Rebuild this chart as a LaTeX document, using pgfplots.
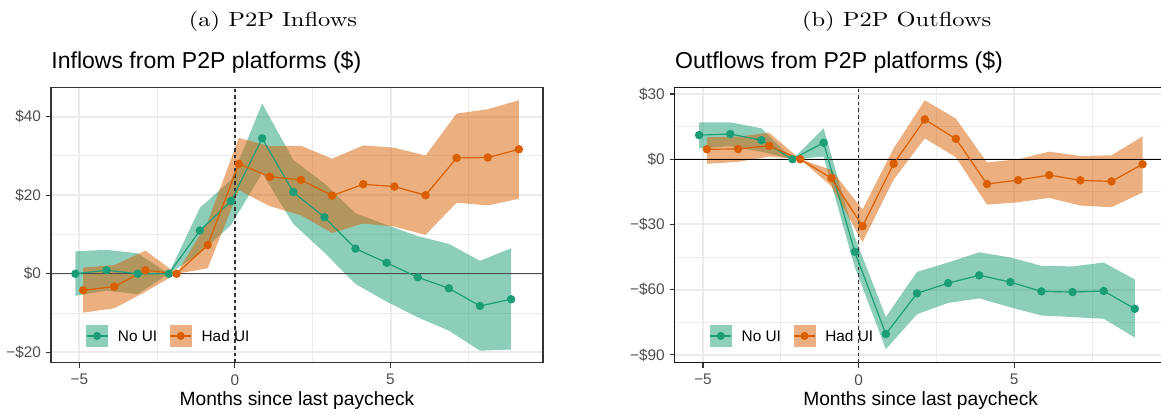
\documentclass[border=0pt]{standalone}
\usepackage{fontspec}
\newfontfamily\arial{Liberation Sans}
\usepackage{graphicx}
\usepackage{pgfplots}
\pgfplotsset{compat=1.18}
\usepackage{pgfplotstable}
\usepgfplotslibrary{fillbetween}
\definecolor{nouicol}{HTML}{1B9E77}
\definecolor{haduicol}{HTML}{D95F02}
\definecolor{gridc}{HTML}{EBEBEB}
\definecolor{g20}{HTML}{333333}
\definecolor{g30}{HTML}{4D4D4D}

% (a) Inflows, No UI (dodged -0.125)
\pgfplotstableread{
x y lo hi
-5.125 0.0 -5.6 5.7
-4.125 0.9 -4.3 6.1
-3.125 0.0 -5.2 5.2
-2.125 0.0 0.0 0.0
-1.125 11.0 5.2 16.8
-0.125 18.5 12.4 23.9
0.875 34.5 25.6 43.4
1.875 20.8 12.7 29.0
2.875 14.4 5.4 23.0
3.875 6.4 -2.6 15.4
4.875 2.8 -7.1 12.4
5.875 -0.9 -11.1 9.6
6.875 -3.7 -14.5 7.6
7.875 -8.2 -19.6 3.3
8.875 -6.5 -19.3 6.5
}\inNo
% (a) Inflows, Had UI (dodged +0.125)
\pgfplotstableread{
x y lo hi
-4.875 -4.2 -9.9 1.6
-3.875 -3.3 -8.8 2.2
-2.875 0.9 -4.6 5.9
-1.875 0.0 0.0 0.0
-0.875 7.3 1.4 13.2
0.125 28.0 21.3 34.6
1.125 24.7 17.2 32.5
2.125 23.9 14.9 32.6
3.125 19.9 10.4 29.3
4.125 22.8 12.8 32.7
5.125 22.2 12.0 32.1
6.125 20.0 9.9 30.1
7.125 29.5 18.1 40.8
8.125 29.6 17.4 41.9
9.125 31.7 19.1 44.2
}\inHad
% (b) Outflows, No UI
\pgfplotstableread{
x y lo hi
-5.125 11.1 5.0 16.9
-4.125 11.6 6.0 17.0
-3.125 8.8 3.5 14.2
-2.125 0.0 0.0 0.0
-1.125 7.6 1.2 14.2
-0.125 -42.6 -49.5 -35.7
0.875 -80.4 -87.4 -72.6
1.875 -61.7 -71.3 -51.8
2.875 -57.0 -66.1 -47.5
3.875 -53.4 -64.0 -42.8
4.875 -56.5 -68.1 -45.2
5.875 -60.8 -71.9 -49.0
6.875 -61.1 -72.6 -49.3
7.875 -60.6 -73.4 -47.5
8.875 -68.8 -82.0 -55.3
}\outNo
% (b) Outflows, Had UI
\pgfplotstableread{
x y lo hi
-4.875 4.6 -2.1 10.1
-3.875 4.7 -1.2 10.4
-2.875 6.2 1.2 12.2
-1.875 0.0 0.0 0.0
-0.875 -8.7 -12.5 -4.9
0.125 -30.8 -38.1 -23.1
1.125 -2.1 -9.4 5.0
2.125 18.3 9.6 27.1
3.125 9.4 0.9 18.7
4.125 -11.4 -20.9 -1.5
5.125 -9.6 -19.8 0.0
6.125 -7.3 -17.8 3.5
7.125 -9.7 -21.3 1.5
8.125 -10.2 -22.1 1.8
9.125 -2.3 -15.3 10.5
}\outHad

\pgfplotsset{
  p2p/.style={
    scale only axis, width=246pt, height=137.6pt,
    xmin=-5.91, xmax=9.9,
    xtick={-5,0,5}, xticklabels={−5,0,5},
    minor xtick={-2.5,2.5,7.5},
    grid=both,
    major grid style={draw=gridc, line width=1pt},
    minor grid style={draw=gridc, line width=0.5pt},
    tick align=outside,
    major tick length=2.4pt, minor tick length=0pt,
    xtick pos=left, ytick pos=left,
    tick style={draw=g20, line width=0.55pt},
    tick label style={font=\arial\fontsize{7.68}{9}\selectfont, text=g30},
    xticklabel style={anchor=north, inner sep=0pt, yshift=-3.25pt},
    yticklabel style={anchor=east, inner sep=0pt, xshift=-2.4pt},
    every axis title shift=0pt,
    title style={at={(0,1)}, anchor=base west, inner sep=0pt, yshift=9.4pt,
      font=\arial\fontsize{11.52}{13}\selectfont},
    xlabel={Months since last paycheck},
    xlabel style={at={(0.5,0)}, anchor=base, inner sep=0pt, yshift=-21.5pt,
      font=\arial\fontsize{9.6}{11}\selectfont},
    legend style={at={(0.0711,0.0581)}, anchor=south west, draw=none, fill=none,
      inner sep=0pt, outer sep=0pt, legend columns=2, column sep=0pt,
      font=\arial\fontsize{7.68}{9}\selectfont,
      nodes={inner sep=0pt, anchor=base west},
      /tikz/every odd column/.append style={column sep=4.9pt},
      /tikz/every even column/.append style={column sep=6.2pt}},
  },
  rib/.style={draw=none, fill=#1, fill opacity=0.5, forget plot},
  ser/.style={#1, line width=0.6pt, mark=*, mark size=1.8pt,
    mark options={fill=#1, draw=none}, forget plot},
}

\newcommand{\legkeys}{%
  \addlegendimage{legend image code/.code={
    \fill[nouicol!50!white] (0pt,-2.2pt) rectangle (10.5pt,8.2pt);
    \draw[nouicol, line width=0.6pt] (0pt,3pt) -- (10.5pt,3pt);
    \fill[nouicol] (5.25pt,3pt) circle (1.8pt);}}
  \addlegendentry{No UI}
  \addlegendimage{legend image code/.code={
    \fill[haduicol!50!white] (0pt,-2.2pt) rectangle (10.5pt,8.2pt);
    \draw[haduicol, line width=0.6pt] (0pt,3pt) -- (10.5pt,3pt);
    \fill[haduicol] (5.25pt,3pt) circle (1.8pt);}}
  \addlegendentry{Had UI}%
}

\begin{document}
\begin{tikzpicture}
\node[anchor=base, inner sep=0pt] at (136.5pt,193.65pt)
  {\fontsize{10.2}{12}\selectfont\scalebox{1.2}[1]{(a) P2P Inflows}};
\node[anchor=base, inner sep=0pt] at (448.35pt,194pt)
  {\fontsize{10.2}{12}\selectfont\scalebox{1.2}[1]{(b) P2P Outflows}};

% ---------- (a) ----------
\begin{axis}[p2p, at={(25.5pt,25.65pt)}, anchor=south west,
  ymin=-22.66, ymax=47.44,
  ytick={-20,0,20,40}, yticklabels={−\$20,\$0,\$20,\$40},
  minor ytick={-10,10,30},
  axis line style={draw=g20, line width=0.55pt},
  title={Inflows from P2P platforms (\$)}]
  \addplot[draw=none, name path=anh, forget plot] table[x=x,y=hi]{\inNo};
  \addplot[draw=none, name path=anl, forget plot] table[x=x,y=lo]{\inNo};
  \addplot[draw=none, name path=ahh, forget plot] table[x=x,y=hi]{\inHad};
  \addplot[draw=none, name path=ahl, forget plot] table[x=x,y=lo]{\inHad};
  \addplot[rib=nouicol] fill between[of=anh and anl];
  \addplot[rib=haduicol] fill between[of=ahh and ahl];
  \draw[g30, line width=0.7pt] (axis cs:-5.91,0) -- (axis cs:9.9,0);
  \draw[g20, line width=0.6pt, dash pattern=on 1.8pt off 1.5pt]
    (axis cs:0,-22.66) -- (axis cs:0,47.44);
  \addplot[ser=nouicol] table[x=x,y=y]{\inNo};
  \addplot[ser=haduicol] table[x=x,y=y]{\inHad};
  \legkeys
\end{axis}

% ---------- (b) ----------
\begin{axis}[p2p, at={(337.35pt,25.65pt)}, anchor=south west,
  ymin=-93.6, ymax=33.0,
  ytick={-90,-60,-30,0,30}, yticklabels={−\$90,−\$60,−\$30,\$0,\$30},
  minor ytick={-75,-45,-15,15},
  axis line style={draw=black!90, line width=0.55pt},
  title={Outflows from P2P platforms (\$)}]
  \addplot[draw=none, name path=bnh, forget plot] table[x=x,y=hi]{\outNo};
  \addplot[draw=none, name path=bnl, forget plot] table[x=x,y=lo]{\outNo};
  \addplot[draw=none, name path=bhh, forget plot] table[x=x,y=hi]{\outHad};
  \addplot[draw=none, name path=bhl, forget plot] table[x=x,y=lo]{\outHad};
  \addplot[rib=nouicol] fill between[of=bnh and bnl];
  \addplot[rib=haduicol] fill between[of=bhh and bhl];
  \draw[black, line width=0.5pt] (axis cs:-5.91,0) -- (axis cs:9.9,0);
  \draw[g20, line width=0.6pt, dash pattern=on 1.8pt off 1.5pt]
    (axis cs:0,-93.6) -- (axis cs:0,33.0);
  \addplot[ser=nouicol] table[x=x,y=y]{\outNo};
  \addplot[ser=haduicol] table[x=x,y=y]{\outHad};
  \legkeys
\end{axis}
\pgfresetboundingbox
\path[use as bounding box] (0,0) rectangle (580.5pt,207pt);
\end{tikzpicture}
\end{document}
